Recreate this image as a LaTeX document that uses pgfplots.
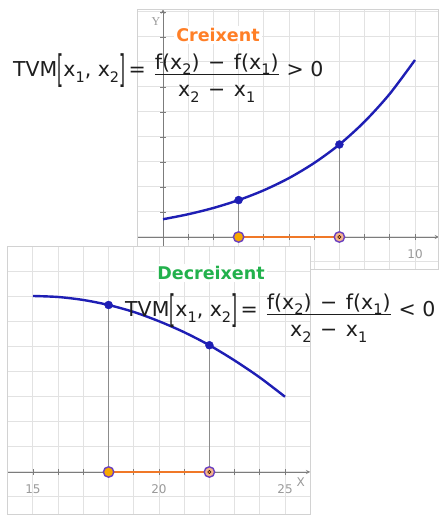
\documentclass[border=0pt]{standalone}
\usepackage{pgfplots}
\pgfplotsset{compat=1.18}
\usepackage{fontspec}
\setmainfont{DejaVu Sans}
\newfontfamily\serifY{Liberation Serif}
\definecolor{gridgray}{HTML}{E2E2E2}
\definecolor{bordergray}{HTML}{D2D2D2}
\definecolor{axgray}{HTML}{7C7C7C}
\definecolor{labgray}{HTML}{9A9A9A}
\definecolor{curveblue}{HTML}{1E1EB4}
\definecolor{vline}{HTML}{8C8C8C}
\definecolor{segorange}{HTML}{F07828}
\definecolor{dotorange}{HTML}{F8A800}
\definecolor{ringpurple}{HTML}{6A40C0}
\definecolor{lightfill}{HTML}{F6B48C}
\definecolor{creix}{HTML}{FF7F27}
\definecolor{decreix}{HTML}{22B14C}
\definecolor{formula}{HTML}{1E1E1E}
\newcommand{\sub}[1]{\raisebox{-0.45ex}{\fontsize{14.5}{14.5}\selectfont #1}}
\newcommand{\brk}[1]{\raisebox{-5.5pt}{\scalebox{0.75}[1.85]{#1}}}
\newcommand{\mn}{\hspace{0.42em}−\hspace{0.42em}}
\newcommand{\fr}[2]{\raisebox{-20pt}{\renewcommand{\arraystretch}{0.5}\setlength{\arrayrulewidth}{1.1pt}\begin{tabular}[b]{@{}c@{}}#1\\\hline\rule{0pt}{21.5pt}#2\end{tabular}}}
\newcommand{\tvm}[1]{TVM\brk{[}x\sub{1}, x\sub{2}\brk{]}\,=\hspace{0.45em}\fr{f(x\sub{2})\mn f(x\sub{1})}{x\sub{2}\mn x\sub{1}}\hspace{0.4em}#1 0}
\pgfplotsset{panel/.style={
  axis line style={-, draw=axgray, line width=0.9pt},
  x axis line style={-}, y axis line style={-},
  tick align=center, major tick length=6pt,
  tick style={axgray, line width=0.8pt},
  grid=major, major grid style={gridgray, line width=1pt},
  hide obscured x ticks=false, hide obscured y ticks=false,
  xticklabel style={font=\fontsize{12}{12}\selectfont, text=labgray, yshift=-6pt},
  axis background/.style={fill=white},
  clip=false,
}}
\begin{document}
\begin{tikzpicture}
\useasboundingbox (0,0) rectangle (444pt,518pt);
% ---------- top panel (increasing) ----------
\begin{axis}[panel,
  x=25.2pt, y=25pt,
  xmin=-1, xmax=10.95, ymin=-1.3, ymax=9.1,
  at={(137.8pt,248.5pt)}, anchor=south west,
  axis x line=middle, axis y line=middle,
  xtick={-1,...,10}, xticklabels={,,,,,,,,,,,10},
  ytick={-1,...,9}, yticklabels={,,,,,,,,,,,},
  ylabel={Y},
  every axis y label/.style={at={(axis cs:-0.28,8.62)}, anchor=center, font=\serifY\fontsize{12}{12}\selectfont, text=labgray},
]
\draw[bordergray, line width=1pt] (rel axis cs:0,0) rectangle (rel axis cs:1,1);
\addplot[vline, line width=0.8pt] coordinates {(3,0) (3,1.476)};
\addplot[vline, line width=0.8pt] coordinates {(7,0) (7,3.70)};
\addplot[segorange, line width=1.6pt] coordinates {(3,0) (7,0)};
\addplot[curveblue, line width=2.4pt, smooth] coordinates {
 (0,0.71) (1,0.910) (2,1.161) (3,1.476) (4,1.869) (5,2.357)
 (6,2.961) (7,3.70) (8,4.616) (9,5.729) (10,7.08)};
\addplot[only marks, mark=*, mark size=4pt, curveblue] coordinates {(3,1.476) (7,3.70)};
\addplot[only marks, mark=*, mark size=5.2pt, mark options={fill=dotorange, draw=ringpurple, line width=1.4pt}] coordinates {(3,0)};
\addplot[only marks, mark=*, mark size=5.2pt, mark options={fill=lightfill, draw=ringpurple, line width=1.4pt}] coordinates {(7,0)};
\addplot[only marks, mark=*, mark size=1.8pt, mark options={fill=segorange, draw=none}] coordinates {(7,0)};
\end{axis}
\node[fill=white, inner sep=2pt, text=creix, font=\bfseries\fontsize{17.5}{18}\selectfont] at (218pt,483pt) {Creixent};
\node[anchor=base west, inner sep=0pt, text=formula, font=\fontsize{20.5}{23}\selectfont] at (13pt,441pt) {\tvm{>}};
% ---------- bottom panel (decreasing) ----------
\begin{axis}[panel,
  x=25.2pt, y=25pt,
  xmin=14, xmax=26, ymin=-1.72, ymax=9.0,
  at={(7.8pt,3pt)}, anchor=south west,
  axis x line=middle, axis y line=left,
  y axis line style={draw=none},
  ytick style={draw=none},
  xtick={14,...,26}, xticklabels={,15,,,,,20,,,,,25,},
  ytick={-1,...,9}, yticklabels={,,,,,,,,,,,},
  xlabel={X},
  every axis x label/.style={at={(axis cs:25.62,-0.42)}, anchor=center, font=\fontsize{12}{12}\selectfont, text=labgray},
]
\draw[bordergray, line width=1pt] (rel axis cs:0,0) rectangle (rel axis cs:1,1);
\addplot[vline, line width=0.8pt] coordinates {(18,0) (18,6.68)};
\addplot[vline, line width=0.8pt] coordinates {(22,0) (22,5.07)};
\addplot[segorange, line width=1.6pt] coordinates {(18,0) (22,0)};
\addplot[curveblue, line width=2.4pt, smooth] coordinates {
 (15,7.04) (16,7.00) (17,6.88) (18,6.68) (19,6.40) (20,6.03)
 (21,5.59) (22,5.07) (23,4.46) (24,3.78) (25,3.01)};
\addplot[only marks, mark=*, mark size=4pt, curveblue] coordinates {(18,6.68) (22,5.07)};
\addplot[only marks, mark=*, mark size=5.2pt, mark options={fill=dotorange, draw=ringpurple, line width=1.4pt}] coordinates {(18,0)};
\addplot[only marks, mark=*, mark size=5.2pt, mark options={fill=lightfill, draw=ringpurple, line width=1.4pt}] coordinates {(22,0)};
\addplot[only marks, mark=*, mark size=1.8pt, mark options={fill=segorange, draw=none}] coordinates {(22,0)};
\end{axis}
\node[fill=white, inner sep=2pt, text=decreix, font=\bfseries\fontsize{17.5}{18}\selectfont] at (211pt,245pt) {Decreixent};
\node[anchor=base west, inner sep=0pt, text=formula, font=\fontsize{20.5}{23}\selectfont] at (125pt,201pt) {\tvm{<}};
\end{tikzpicture}
\end{document}
